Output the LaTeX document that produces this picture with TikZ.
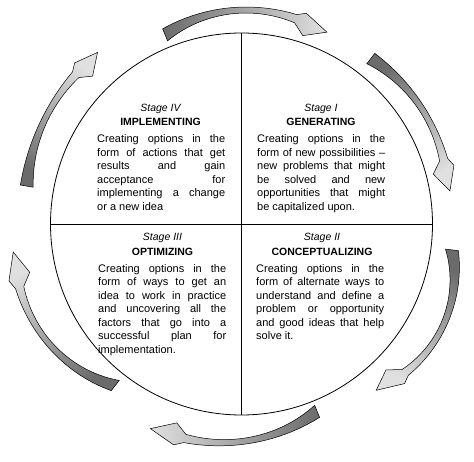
\documentclass[tikz,border=0pt]{standalone}
\usepackage{fontspec}
\setmainfont{Liberation Sans}
% #1 tail angle, #2 tip angle, #3 #4 #5 radii (tail, middle, tip), #6 shading angle
\newcommand\cycarrow[6]{%
 \begin{scope}[shift={(O)},
   declare function={th(\t)=#1+(#2-#1)*\t; rr(\t)=#3*(1-\t)*(1-2*\t)+4*#4*\t*(1-\t)+#5*\t*(2*\t-1); ww(\t)=13-28*\t+28*\t*\t;}]
 \shade[cyc, shading angle=#6] plot[domain=0:0.8,samples=30] ({th(\x)}:{rr(\x)+ww(\x)/2})
   -- ({th(0.85)}:{rr(0.85)+9}) -- ({th(1)}:{rr(1)+2}) -- ({th(0.87)}:{rr(0.87)-13})
   -- plot[domain=0.8:0,samples=30] ({th(\x)}:{rr(\x)-ww(\x)/2}) -- cycle;
 \end{scope}}
\begin{document}
\begin{tikzpicture}[x=1pt,y=1pt,
  stagel/.style={font=\fontsize{10.5}{12}\selectfont\itshape, anchor=base, inner sep=0pt},
  titl/.style={font=\fontsize{10.5}{12}\selectfont\bfseries, anchor=base, inner sep=0pt},
  bodyt/.style={font=\fontsize{11}{13.45}\selectfont, anchor=base west, inner sep=0pt, text width=128pt, align=justify},
  ring/.style={line width=0.8pt},
  cyc/.style={draw=black, line width=0.5pt, top color=black!12, bottom color=black!58}
]
\useasboundingbox (0,0) rectangle (474,461);
\coordinate (O) at (241.5,237);
\coordinate (T) at (241.5,428);
\coordinate (B) at (241.5,46);
\coordinate (L) at (50.5,237);
\coordinate (R) at (432.5,237);
\draw[ring] (O) circle[radius=191];
\draw[ring] (T) -- (B);
\draw[ring] (L) -- (R);

\cycarrow{112}{66}{204}{214}{208}{-90.5}
\cycarrow{52}{9}{210}{214}{209}{-149.5}
\cycarrow{-7}{-51}{212}{226}{212}{-209}
\cycarrow{-68}{-114}{202}{218}{222}{-270.5}
\cycarrow{-128}{-173}{205}{228}{228}{-330.5}
\cycarrow{170}{130}{218}{223}{222}{-30}

% upper left
\node[stagel] (s4) at (160.5,349) {Stage IV};
\node[titl] (t4) at (160.5,335) {IMPLEMENTING};
\node[bodyt] (b4) at (97,318) {Creating options in the\linebreak form of actions that get\linebreak results and gain\linebreak acceptance for\linebreak implementing a change\linebreak or a new idea};
% upper right
\node[stagel] (s1) at (321,349) {Stage I};
\node[titl] (t1) at (321,335) {GENERATING};
\node[bodyt] (b1) at (257,318) {Creating options in the\linebreak form of new possibilities~–\linebreak new problems that might\linebreak be solved and new\linebreak opportunities that might\linebreak be capitalized upon.};
% lower left
\node[stagel] (s3) at (162.5,220) {Stage III};
\node[titl] (t3) at (162.5,205) {OPTIMIZING};
\node[bodyt] (b3) at (98,188.5) {Creating options in the\linebreak form of ways to get an\linebreak idea to work in practice\linebreak and uncovering all the\linebreak factors that go into a\linebreak successful plan for\linebreak implementation.};
% lower right
\node[stagel] (s2) at (322,220) {Stage II};
\node[titl] (t2) at (322,205) {CONCEPTUALIZING};
\node[bodyt] (b2) at (256,188.5) {Creating options in the\linebreak form of alternate ways to\linebreak understand and define a\linebreak problem or opportunity\linebreak and good ideas that help\linebreak solve it.};
\end{tikzpicture}
\end{document}
